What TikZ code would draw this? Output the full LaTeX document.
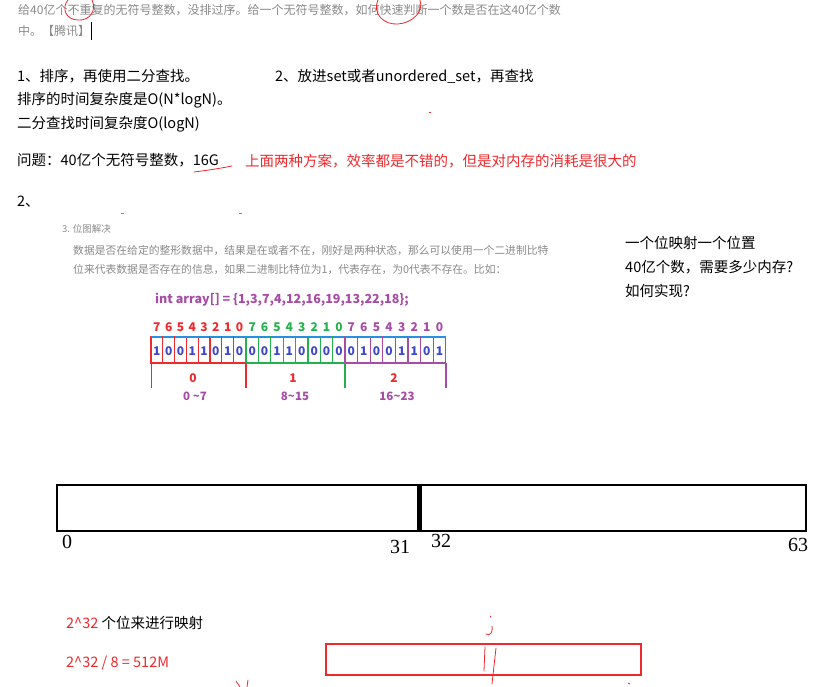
\documentclass[tikz,border=0pt]{standalone}
\usepackage{fontspec}
\setmainfont{Noto Sans CJK SC}
\newfontfamily\handfont{Liberation Serif}
\definecolor{greytxt}{HTML}{8A8A8A}
\definecolor{redA}{HTML}{EE2A2E}
\definecolor{purp}{HTML}{A64CA6}
\definecolor{grn}{HTML}{22B14C}
\definecolor{blu}{HTML}{3F48CC}
\tikzset{
  txt/.style={anchor=west,inner sep=0pt,font=\fontsize{14.5}{16}\selectfont},
  gtxt/.style={anchor=west,inner sep=0pt,text=greytxt,font=\fontsize{12}{14}\selectfont},
  pen/.style={draw=redA,line width=0.8pt,line cap=round},
  hand/.style={inner sep=0pt,font=\handfont\fontsize{20}{20}\selectfont},
  bitlab/.style={inner sep=0pt,font=\bfseries\fontsize{12}{12}\selectfont},
  bitval/.style={inner sep=0pt,text=blu,font=\bfseries\fontsize{12}{12}\selectfont},
}
\begin{document}
\begin{tikzpicture}[x=1pt,y=-1pt]
\useasboundingbox[fill=white] (0,0) rectangle (820,687);
% top question
\node[gtxt] (q1) at (18,10) {给40亿个不重复的无符号整数，没排过序。给一个无符号整数，如何快速判断一个数是否在这40亿个数};
\node[gtxt] (q2) at (18,31) {中。【腾讯】};
\draw[black,line width=0.6pt] (91,22) -- (91,40);
\draw[pen] (68,0) .. controls (61,8) and (66,20) .. (78,20) .. controls (90,21) and (97,10) .. (92,0);
\draw[pen] (378,0) .. controls (372,14) and (384,25) .. (398,24) .. controls (412,23) and (424,12) .. (420,0);
% section 1
\node[txt] (s1) at (17,76) {1、排序，再使用二分查找。};
\node[txt] (s2) at (275,76) {2、放进set或者unordered\_set，再查找};
\node[txt] (s3) at (17,100) {排序的时间复杂度是O(N*logN)。};
\node[txt] (s4) at (17,124) {二分查找时间复杂度O(logN)};
\fill[redA] (429,112.5) rectangle (431,113.5);
\node[txt] (s5) at (17,160) {问题：40亿个无符号整数，16G};
\draw[pen] (194,172) .. controls (210,170) and (222,168) .. (232,166);
\node[txt,text=redA] (s6) at (245,161) {上面两种方案，效率都是不错的，但是对内存的消耗是很大的};
\node[txt] (s7) at (17,202) {2、};
\fill[greytxt] (121,213) rectangle (124,214);
\fill[greytxt] (239,213) rectangle (242,214);
% embedded article
\node[gtxt,font=\fontsize{9.5}{11}\selectfont] (t0) at (62,229) {3. 位图解决};
\node[gtxt,font=\fontsize{10.8}{13}\selectfont] (t1) at (73,251) {数据是否在给定的整形数据中，结果是在或者不在，刚好是两种状态，那么可以使用一个二进制比特};
\node[gtxt,font=\fontsize{10.8}{13}\selectfont] (t2) at (73,269) {位来代表数据是否存在的信息，如果二进制比特位为1，代表存在，为0代表不存在。比如：};
\node[anchor=west,inner sep=0pt,text=purp,font=\bfseries\fontsize{12.5}{14}\selectfont] (arr) at (155,300) {int array[]\ =\ \{1,3,7,4,12,16,19,13,22,18\};};
% bit cells
\foreach \g/\x/\w/\c/\bits in {0/151/11.8/redA/{1,0,0,1,1,0,1,0},1/246/12.4/grn/{0,0,1,1,0,0,0,0},2/345/12.6/purp/{0,1,0,0,1,1,0,1}}{
  \foreach \b [count=\i from 0] in \bits {
    \pgfmathsetmacro{\xl}{\x+\i*\w}
    \pgfmathsetmacro{\xr}{\x+(\i+1)*\w}
    \pgfmathsetmacro{\lab}{int(7-\i)}
    \draw[\c,line width=1.3pt] (\xl,337) rectangle (\xr,363);
    \draw[blu!60!cyan,line width=1.2pt] (\xl,337) -- (\xr,337);
    \node[bitval] (v\g\i) at ({(\xl+\xr)/2},351) {\b};
    \node[bitlab,text=\c] (l\g\i) at ({(\xl+\xr)/2},327) {\lab};
  }
}
\draw[redA,line width=1.2pt] (151.5,363) -- (151.5,388);
\draw[redA,line width=1.2pt] (246,363) -- (246,388);
\draw[grn,line width=1.2pt] (345,363) -- (345,388);
\draw[purp,line width=1.2pt] (446,363) -- (446,388);
\node[bitlab,text=redA] (g0) at (193,378) {0};
\node[bitlab,text=redA] (g1) at (293,378) {1};
\node[bitlab,text=redA] (g2) at (394,378) {2};
\node[bitlab,text=purp,font=\bfseries\fontsize{11.5}{12}\selectfont] (r0) at (195,396) {0 \textasciitilde7};
\node[bitlab,text=purp,font=\bfseries\fontsize{11.5}{12}\selectfont] (r1) at (295,396) {8\textasciitilde15};
\node[bitlab,text=purp,font=\bfseries\fontsize{11.5}{12}\selectfont] (r2) at (397,396) {16\textasciitilde23};
% right notes
\node[txt] (n1) at (625,243) {一个位映射一个位置};
\node[txt] (n2) at (625,267) {40亿个数，需要多少内存?};
\node[txt] (n3) at (625,291) {如何实现?};
% 64-bit boxes
\draw[black,line width=2.6pt] (57,485) rectangle (418.5,531);
\draw[black,line width=2.6pt] (421,485) rectangle (806,531);
\node[hand] (h0) at (67,542) {0};
\node[hand] (h31) at (400,547) {31};
\node[hand] (h32) at (441,541) {32};
\node[hand] (h63) at (798,545) {63};
% bottom
\node[txt] (m1) at (66,623) {\textcolor{redA}{2\^{}32} 个位来进行映射};
\node[txt,text=redA] (m2) at (66,663) {2\^{}32 / 8 = 512M};
\draw[redA,line width=2.6pt] (326,644) rectangle (641,675);
\draw[pen] (490,616) -- (490,617);
\draw[pen] (492,626) .. controls (493,633) and (490,636) .. (486,634);
\draw[pen] (485,647) -- (484,671);
\draw[pen] (496,648) -- (492,684);
\draw[pen] (236,681) -- (240,687);
\draw[pen] (248,680) -- (247,687);
\draw[pen] (628,683) -- (630,684);
\end{tikzpicture}
\end{document}
